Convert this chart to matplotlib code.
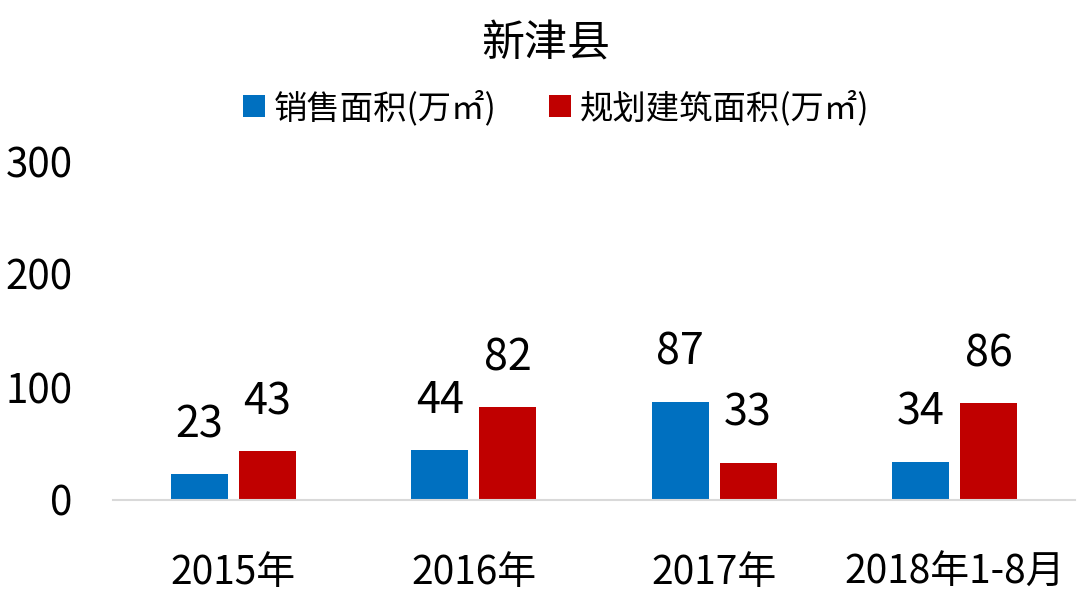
import matplotlib
matplotlib.use("Agg")
import matplotlib.pyplot as plt
import numpy as np

plt.rcParams['font.family'] = ['Noto Sans CJK SC', 'DejaVu Sans']

# Data
categories = ["2015年", "2016年", "2017年", "2018年1-8月"]
sales_area = [23, 44, 87, 34]
planned_area = [43, 82, 33, 86]
series_names = ["销售面积(万㎡)", "规划建筑面积(万㎡)"]
colors = ["#0070C0", "#C00000"]

fig = plt.figure(figsize=(10.8, 6), dpi=100)
ax = fig.add_axes([113 / 1080, 1 - 500 / 600, 962 / 1080, 339 / 600])

x = np.arange(len(categories))
w = 0.237
off = 0.141
b1 = ax.bar(x - off, sales_area, w, color=colors[0], label=series_names[0])
b2 = ax.bar(x + off, planned_area, w, color=colors[1], label=series_names[1])

# value labels above bars
for bars, vals in [(b1, sales_area), (b2, planned_area)]:
    for rect, v in zip(bars, vals):
        ax.annotate(str(v), (rect.get_x() + rect.get_width() / 2, v),
                    xytext=(0, 26.5), textcoords="offset points",
                    ha="center", va="baseline", fontsize=31)

ax.set_xlim(-0.5, 3.5)
ax.set_ylim(0, 300)
ax.set_yticks([0, 100, 200, 300])
ax.set_xticks(x)
ax.set_xticklabels(categories)
ax.tick_params(axis="y", length=0, labelsize=29, pad=29)
ax.tick_params(axis="x", length=0, labelsize=28, pad=38)

for s in ["top", "right", "left"]:
    ax.spines[s].set_visible(False)
ax.spines["bottom"].set_color("#D9D9D9")
ax.spines["bottom"].set_linewidth(1.5)

fig.text(0.505, 0.925, "新津县", ha="center", va="center", fontsize=31)
fig.legend(loc="center", bbox_to_anchor=(0.515, 0.82), ncol=2, frameon=False,
           fontsize=24, handlelength=0.65, handleheight=0.65,
           handletextpad=0.25, columnspacing=1.6)

fig.savefig("out.png", dpi=100)
